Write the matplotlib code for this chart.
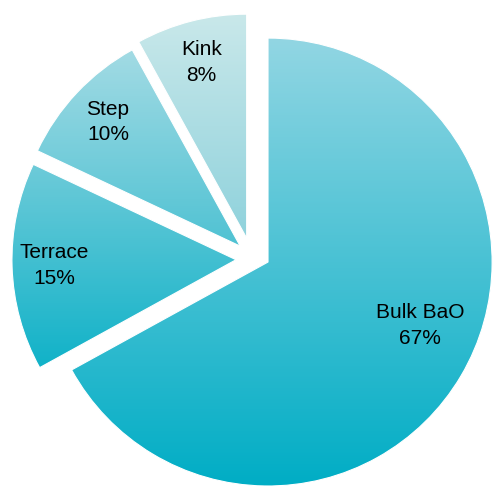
import numpy as np
import matplotlib
matplotlib.use('Agg')
import matplotlib.pyplot as plt
from matplotlib.colors import LinearSegmentedColormap

plt.rcParams['font.family'] = ['Liberation Sans', 'DejaVu Sans']

# Données
names = ['Bulk BaO', 'Terrace', 'Step', 'Kink']
shares = [67, 15, 10, 8]

# couleurs (haut, bas) pour le dégradé de chaque part
grad_colors = [('#92d6e3', '#00adc5'),
               ('#6ecbd9', '#10b2c8'),
               ('#a3dbe4', '#4fc2d3'),
               ('#c9e8ea', '#8fd2dc')]

fig = plt.figure(figsize=(4.93, 4.86), dpi=100)
ax = fig.add_axes([0, 0, 1, 1])

pct_dist = 0.81
wedges, texts, autotexts = ax.pie(shares, startangle=90, counterclock=False, radius=1.0,
                                  autopct=lambda p: f'{p:.0f}%', pctdistance=pct_dist,
                                  wedgeprops=dict(facecolor='none', edgecolor='white',
                                                  linewidth=0.8))

# les petites parts sont détachées ensemble (direction resserrée vers le milieu du groupe)
small = wedges[1:]
g_lo = min(w.theta1 for w in small)
g_hi = max(w.theta2 for w in small)
g_mid = (g_lo + g_hi) / 2
shift = 0.143
for w, t in zip(small, autotexts[1:]):
    mid = (w.theta1 + w.theta2) / 2
    d = np.deg2rad(g_mid + 8 + 0.57 * (mid - g_mid))
    cx, cy = shift * np.cos(d), shift * np.sin(d)
    w.set_center((cx, cy))
    m = np.deg2rad(mid)
    t.set_position((cx + pct_dist * np.cos(m), cy + pct_dist * np.sin(m)))

ax.axis('off')

# dégradé vertical dans chaque part
for w, (c_top, c_bot) in zip(wedges, grad_colors):
    verts = w.get_path().vertices
    x0, x1 = verts[:, 0].min(), verts[:, 0].max()
    y0, y1 = verts[:, 1].min(), verts[:, 1].max()
    cmap = LinearSegmentedColormap.from_list('g', [c_bot, c_top])
    grad = np.linspace(0, 1, 256).reshape(-1, 1)
    im = ax.imshow(grad, cmap=cmap, origin='lower', extent=[x0, x1, y0, y1],
                   aspect='auto', zorder=1, interpolation='bilinear')
    im.set_clip_path(w)
    w.set_zorder(2)

ax.set_xlim(-1.196, 1.004)
ax.set_ylim(-1.0, 1.170)
ax.set_aspect('auto')

for t, name in zip(autotexts, names):
    t.set_text(f'{name}\n{t.get_text()}')
    t.set_fontsize(15)
    t.set_linespacing(1.45)
    t.set_color('black')
    t.set_zorder(3)

# position du texte de la grande part
autotexts[0].set_position((0.679, -0.285))

fig.savefig('out.png', dpi=100)
